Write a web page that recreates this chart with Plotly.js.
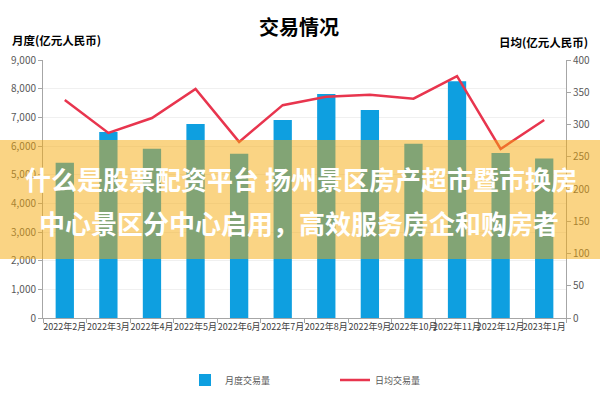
<!DOCTYPE html>
<html>
<head>
<meta charset="utf-8">
<script src="https://cdn.plot.ly/plotly-3.0.1.min.js"></script>
<style>html,body{margin:0;padding:0;background:#fff;}#chart{width:600px;height:400px;}</style>
</head>
<body>
<div id="chart"></div>
<script>
const months = ["2022年2月","2022年3月","2022年4月","2022年5月","2022年6月","2022年7月","2022年8月","2022年9月","2022年10月","2022年11月","2022年12月","2023年1月"];
const monthlyVolume = [5420, 6490, 5900, 6770, 5730, 6910, 7810, 7260, 6080, 8260, 5760, 5560];
const dailyAverage = [338, 287, 310, 355, 273, 330, 343, 346, 340, 375, 262, 307];
const leftTicks = [0,1000,2000,3000,4000,5000,6000,7000,8000,9000];
const rightTicks = [0,50,100,150,200,250,300,350,400];

const CJK = '"Noto Sans CJK SC", "Noto Sans", sans-serif';
const NARROW = '"Liberation Sans Narrow", "Noto Sans CJK SC", sans-serif';

const traces = [
  {
    type: 'bar', name: '月度交易量', x: months, y: monthlyVolume,
    marker: {color: '#0E9FE0'}, width: 0.42, yaxis: 'y'
  },
  {
    type: 'scatter', mode: 'lines', name: '日均交易量', x: months, y: dailyAverage,
    line: {color: '#E8354E', width: 2.5}, yaxis: 'y2'
  }
];

const layout = {
  width: 600, height: 400,
  margin: {l: 43, r: 34, t: 60, b: 82, autoexpand: false},
  paper_bgcolor: '#fff', plot_bgcolor: '#fff',
  font: {family: NARROW, size: 10, color: '#595959'},
  showlegend: true,
  legend: {orientation: 'h', xref: 'container', yref: 'container',
           x: 185 / 600, xanchor: 'left', y: (400 - 380) / 400, yanchor: 'middle',
           font: {family: NARROW, size: 9, color: '#595959'}, entrywidth: 105, itemwidth: 30, traceorder: 'normal'},
  xaxis: {
    type: 'category', tickangle: 0, tickfont: {family: NARROW, size: 9, color: '#404040'},
    showline: true, linecolor: '#a6a6a6', linewidth: 1,
    ticks: 'outside', tickson: 'boundaries', ticklen: 4, tickcolor: '#a6a6a6',
    showgrid: false, fixedrange: true
  },
  yaxis: {
    range: [0, 9000], tickvals: leftTicks, tickformat: ',', tickfont: {family: NARROW, size: 10, color: '#595959'},
    showline: true, linecolor: '#a6a6a6', ticks: 'outside', ticklen: 4, tickcolor: '#a6a6a6',
    showgrid: true, gridcolor: '#f0f0f0', zeroline: false
  },
  yaxis2: {
    range: [0, 400], tickvals: rightTicks, overlaying: 'y', side: 'right',
    tickfont: {family: NARROW, size: 10, color: '#595959'},
    showline: true, linecolor: '#a6a6a6', ticks: 'outside', ticklen: 4, tickcolor: '#a6a6a6',
    showgrid: false, zeroline: false
  },
  shapes: [
    {type: 'rect', xref: 'paper', yref: 'paper', x0: -0.09, x1: 1.08,
     y0: (400 - 82 - 259) / 258, y1: (400 - 82 - 140) / 258,
     fillcolor: 'rgba(245,170,10,0.5)', line: {width: 0}, layer: 'above'}
  ],
  annotations: [
    {text: '<b>交易情况</b>', xref: 'paper', yref: 'paper', x: (299 - 43) / 523, y: (318 - 26) / 258,
     showarrow: false, font: {family: CJK, size: 20, color: '#000'}, xanchor: 'center', yanchor: 'middle'},
    {text: '<b>月度(亿元人民币)</b>', xref: 'paper', yref: 'paper', x: (10 - 43) / 523, y: (318 - 40) / 258,
     showarrow: false, font: {family: CJK, size: 11.5, color: '#000'}, xanchor: 'left', yanchor: 'middle'},
    {text: '<b>日均(亿元人民币)</b>', xref: 'paper', yref: 'paper', x: (590 - 43) / 523, y: (318 - 42) / 258,
     showarrow: false, font: {family: CJK, size: 11.5, color: '#000'}, xanchor: 'right', yanchor: 'middle'},
    {text: '<b>什么是股票配资平台 扬州景区房产超市暨市换房</b>', xref: 'paper', yref: 'paper',
     x: (301 - 43) / 523, y: (318 - 178) / 258, showarrow: false,
     font: {family: CJK, size: 26, color: '#fff'}, xanchor: 'center', yanchor: 'middle'},
    {text: '<b>中心景区分中心启用，高效服务房企和购房者</b>', xref: 'paper', yref: 'paper',
     x: (299 - 43) / 523, y: (318 - 222) / 258, showarrow: false,
     font: {family: CJK, size: 26, color: '#fff'}, xanchor: 'center', yanchor: 'middle'}
  ]
};

Plotly.newPlot('chart', traces, layout, {displayModeBar: false, staticPlot: true});
</script>
</body>
</html>
